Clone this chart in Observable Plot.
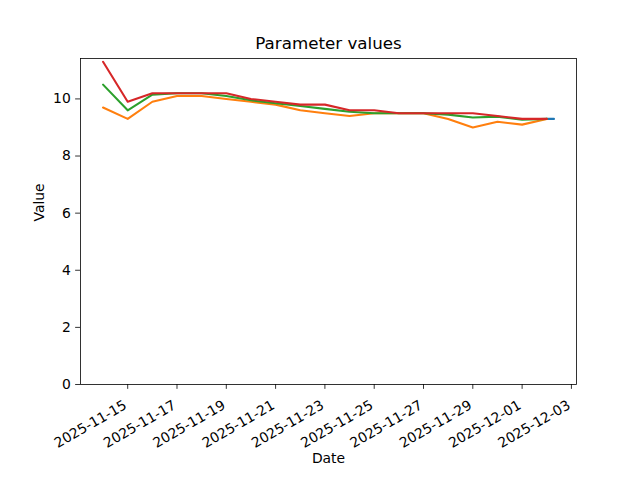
<!DOCTYPE html>
<html>
<head>
<meta charset="utf-8">
<script src="https://cdn.jsdelivr.net/npm/d3@7"></script>
<script src="https://cdn.jsdelivr.net/npm/@observablehq/plot@0.6"></script>
<style>
  html, body { margin: 0; padding: 0; background: #fff; }
  #chart svg { display: block; }
</style>
</head>
<body>
<div id="chart"></div>
<script>
const dates = ["2025-11-14","2025-11-15","2025-11-16","2025-11-17","2025-11-18","2025-11-19","2025-11-20","2025-11-21","2025-11-22","2025-11-23","2025-11-24","2025-11-25","2025-11-26","2025-11-27","2025-11-28","2025-11-29","2025-11-30","2025-12-01","2025-12-02"];
const series1Values = [9.7, 9.3, 9.9, 10.1, 10.1, 10.0, 9.9, 9.8, 9.6, 9.5, 9.4, 9.5, 9.5, 9.5, 9.3, 9.0, 9.2, 9.1, 9.3];
const series2Values = [10.5, 9.6, 10.15, 10.2, 10.2, 10.1, 9.95, 9.85, 9.75, 9.65, 9.55, 9.5, 9.5, 9.5, 9.45, 9.35, 9.38, 9.27, 9.3];
const series3Values = [11.3, 9.9, 10.2, 10.2, 10.2, 10.2, 10.0, 9.9, 9.8, 9.8, 9.6, 9.6, 9.5, 9.5, 9.5, 9.5, 9.4, 9.3, 9.3];
const series0Dates = ["2025-12-02T00:00:00Z", "2025-12-02T07:00:00Z"];
const series0Values = [9.3, 9.3];
const seriesNames = ["S0", "S1", "S2", "S3"];
const seriesColors = ["#1f77b4", "#ff7f0e", "#2ca02c", "#d62728"];
const xTickLabels = ["2025-11-15","2025-11-17","2025-11-19","2025-11-21","2025-11-23","2025-11-25","2025-11-27","2025-11-29","2025-12-01","2025-12-03"];
const yTickValues = [0, 2, 4, 6, 8, 10];
const titleText = "Parameter values";
const xLabelText = "Date";
const yLabelText = "Value";

const parse = s => new Date(s.length === 10 ? s + "T00:00:00Z" : s);
const rows = [];
series0Dates.forEach((d, i) => rows.push({series: "S0", date: parse(d), value: series0Values[i]}));
dates.forEach((d, i) => rows.push({series: "S1", date: parse(d), value: series1Values[i]}));
dates.forEach((d, i) => rows.push({series: "S2", date: parse(d), value: series2Values[i]}));
dates.forEach((d, i) => rows.push({series: "S3", date: parse(d), value: series3Values[i]}));

const xExt = d3.extent(rows, r => +r.date);
const xm = (xExt[1] - xExt[0]) * 0.05;
const yMin = d3.min(rows, r => r.value), yMax = d3.max(rows, r => r.value);
const yTop = yMax + (yMax - yMin) * 0.05;

const fmt = d3.utcFormat("%Y-%m-%d");
const tick = 4.86;

const chart = Plot.plot({
  width: 640,
  height: 480,
  marginLeft: 80,
  marginRight: 64,
  marginTop: 58,
  marginBottom: 96,
  style: {fontFamily: "DejaVu Sans", fontSize: "13.9px", color: "black", background: "white"},
  x: {type: "utc", domain: [new Date(xExt[0] - xm), new Date(xExt[1] + xm)]},
  y: {domain: [0, yTop]},
  color: {type: "ordinal", domain: seriesNames, range: seriesColors},
  marks: [
    Plot.lineY(rows, {x: "date", y: "value", stroke: "series", z: "series", strokeWidth: 2.08}),
    Plot.frame({stroke: "black", strokeWidth: 0.8}),
    Plot.axisX({
      ticks: xTickLabels.map(parse),
      tickFormat: fmt,
      tickSize: tick,
      tickPadding: 18.5,
      tickRotate: -30,
      textAnchor: "end",
      lineAnchor: "bottom",
      fontSize: 13.9,
      label: null,
      strokeWidth: 0.8
    }),
    Plot.axisY({
      ticks: yTickValues,
      tickSize: tick,
      tickPadding: 4.86,
      fontSize: 13.9,
      label: null,
      strokeWidth: 0.8
    }),
    Plot.text([titleText], {frameAnchor: "top", dy: -15, lineAnchor: "middle", fontSize: 16.7, fill: "black"}),
    Plot.text([xLabelText], {frameAnchor: "bottom", dy: 74, lineAnchor: "middle", fontSize: 13.9, fill: "black"}),
    Plot.text([yLabelText], {frameAnchor: "left", dx: -41, rotate: -90, lineAnchor: "middle", fontSize: 13.9, fill: "black"})
  ]
});
document.getElementById("chart").appendChild(chart);
</script>
</body>
</html>
